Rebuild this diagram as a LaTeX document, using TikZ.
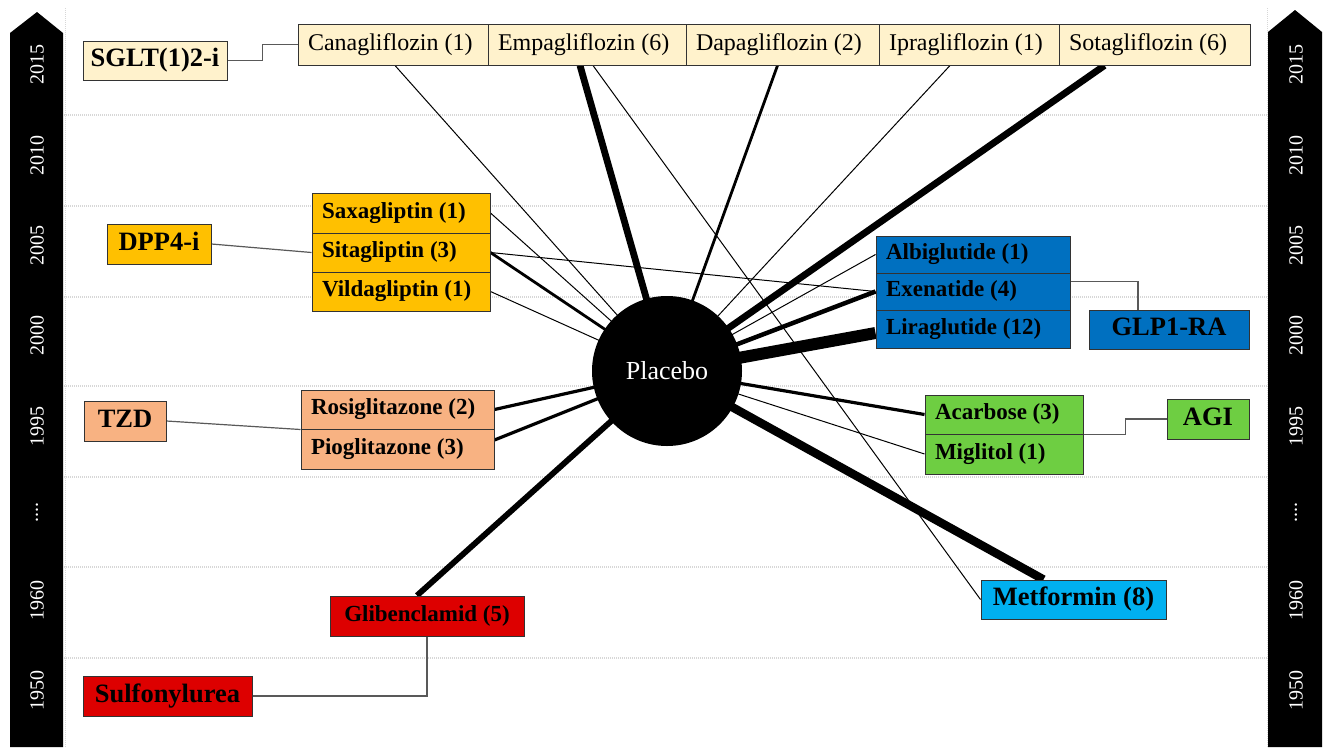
\documentclass[tikz,border=0pt]{standalone}
\usepackage{fontspec}
\setmainfont{Liberation Serif}
\usetikzlibrary{calc}
\definecolor{csglt}{RGB}{255,242,204}
\definecolor{cdpp}{RGB}{255,192,0}
\definecolor{ctzd}{RGB}{248,178,130}
\definecolor{csu}{RGB}{221,0,0}
\definecolor{cglp}{RGB}{0,112,192}
\definecolor{cagi}{RGB}{110,206,66}
\definecolor{cmet}{RGB}{0,176,240}
\definecolor{cgrid}{RGB}{215,215,215}
\pgfdeclarelayer{back}
\pgfdeclarelayer{mid}
\pgfsetlayers{back,mid,main}
\newcommand{\ydotslbl}{....}
\newcommand{\cellbx}[8]{%
  \pgfmathsetmacro\bxw{#5-#3}\pgfmathsetmacro\bxh{#6-#4}\pgfmathsetmacro\bxt{#5-#3-20}%
  \pgfmathsetmacro\bxcx{(#3+#5)/2}\pgfmathsetmacro\bxcy{(#4+#6)/2}%
  \node[#1, minimum width=\bxw pt, minimum height=\bxh pt] (#2) at (\bxcx,\bxcy) {\makebox[\bxt pt][#7]{\strut #8}};}
\tikzset{
  anybox/.style={draw=black!80, line width=1pt, inner sep=0pt},
  cellS/.style={anybox, fill=csglt, font=\fontsize{24}{28}\selectfont},
  cellB/.style={anybox, font=\fontsize{23}{27}\selectfont\bfseries},
  catbox/.style={anybox, font=\fontsize{26.5}{31}\selectfont\bfseries},
  link/.style={draw=black!65, line width=1.2pt},
  gridline/.style={draw=cgrid, line width=1.5pt, dash pattern=on 1pt off 1pt},
  yearlbl/.style={text=white, rotate=90, font=\fontsize{20}{22}\selectfont},
  e1/.style={line width=1pt},
  e2/.style={line width=2.8pt},
  e3/.style={line width=3.2pt},
  e4/.style={line width=4.5pt},
  e5/.style={line width=5.8pt},
  e6/.style={line width=6.8pt},
  e8/.style={line width=8.5pt},
  e12/.style={line width=12pt},
}
\begin{document}
\begin{tikzpicture}[x=1pt,y=-1pt]
\useasboundingbox (0,0) rectangle (1325,747);
% background grid and time bars
\begin{pgfonlayer}{back}
\fill[white] (0,0) rectangle (1325,747);
\foreach \yy in {115,206,297,386,477,567,658}
  \draw[gridline] (64,\yy) -- (1268,\yy);
\draw[gridline, line width=1pt] (65,8) -- (65,747);
\draw[gridline, line width=1pt] (1267,8) -- (1267,747);
\fill[black] (10,747) -- (10,33) -- (37,12) -- (63,33) -- (63,747) -- cycle;
\fill[black] (1268,747) -- (1268,32) -- (1295,10) -- (1322,32) -- (1322,747) -- cycle;
\end{pgfonlayer}
\foreach \yy/\lab [count=\i] in {64/2015,155/2010,245/2005,335/2000,426/1995,512/\ydotslbl,600/1960,690/1950}{
  \node[yearlbl] (yl\i) at (37,\yy) {\lab};
  \node[yearlbl] (yr\i) at (1296,\yy) {\lab};
}
% placebo
\node[circle, fill=black, minimum size=150pt, inner sep=0pt, text=white, font=\fontsize{26}{29}\selectfont] (pl) at (667,371) {Placebo};
% category boxes
\cellbx{catbox, fill=csglt}{sglt}{83}{41}{227}{80}{c}{SGLT(1)2-i}
\cellbx{catbox, fill=cdpp}{dpp}{107}{224}{211}{264}{c}{DPP4-i}
\cellbx{catbox, fill=ctzd}{tzd}{84}{401}{166}{441}{c}{TZD}
\cellbx{catbox, fill=csu}{su}{83}{676}{252}{716}{c}{Sulfonylurea}
\cellbx{catbox, fill=cglp}{glp}{1089}{310}{1249}{349}{c}{GLP1-RA}
\cellbx{catbox, fill=cagi}{agi}{1167}{399}{1249}{439}{c}{AGI}
% SGLT cells
\cellbx{cellS}{cana}{298}{24}{488}{65}{l}{Canagliflozin (1)}
\cellbx{cellS}{empa}{488}{24}{686}{65}{l}{Empagliflozin (6)}
\cellbx{cellS}{dapa}{686}{24}{879}{65}{l}{Dapagliflozin (2)}
\cellbx{cellS}{ipra}{879}{24}{1059}{65}{l}{Ipragliflozin (1)}
\cellbx{cellS}{sota}{1059}{24}{1250}{65}{l}{Sotagliflozin (6)}
% DPP4 cells
\cellbx{cellB, fill=cdpp}{saxa}{312}{193}{490}{233}{l}{Saxagliptin (1)}
\cellbx{cellB, fill=cdpp}{sita}{312}{233}{490}{272}{l}{Sitagliptin (3)}
\cellbx{cellB, fill=cdpp}{vild}{312}{272}{490}{311}{l}{Vildagliptin (1)}
% TZD cells
\cellbx{cellB, fill=ctzd}{rosi}{301}{390}{494}{429}{l}{Rosiglitazone (2)}
\cellbx{cellB, fill=ctzd}{pio}{301}{429}{494}{469}{l}{Pioglitazone (3)}
% SU
\cellbx{cellB, fill=csu}{glib}{330}{596}{524}{636}{c}{Glibenclamid (5)}
% GLP1 cells
\cellbx{cellB, fill=cglp}{albi}{876}{236}{1070}{273}{l}{Albiglutide (1)}
\cellbx{cellB, fill=cglp}{exen}{876}{273}{1070}{310}{l}{Exenatide (4)}
\cellbx{cellB, fill=cglp}{lira}{876}{310}{1070}{348}{l}{Liraglutide (12)}
% AGI cells
\cellbx{cellB, fill=cagi}{acar}{925}{395}{1083}{434}{l}{Acarbose (3)}
\cellbx{cellB, fill=cagi}{migl}{925}{434}{1083}{474}{l}{Miglitol (1)}
% Metformin
\cellbx{cellB, fill=cmet, font=\fontsize{26.5}{31}\selectfont\bfseries}{metf}{981}{580}{1166}{619}{c}{Metformin (8)}
% class links
\begin{pgfonlayer}{mid}
\draw[link] (sglt.east) -- ++(35,0) |- (cana.west);
\draw[link] (dpp.east) -- (sita.west);
\draw[link] (tzd.east) -- (rosi.south west);
\draw[link] (su.east) -| (glib.south);
\draw[link] ([yshift=10pt]exen.east) -| ([xshift=-31pt]glp.north);
\draw[link] (acar.south east) -- ++(42,0) |- (agi.west);
% comparison edges
\draw[e1] ([xshift=2pt]cana.south) -- (pl.center);
\draw[e6] ([xshift=-7pt]empa.south) -- (pl.center);
\draw[e1] ([xshift=6pt]empa.south) -- (metf.west);
\draw[e2] ([xshift=-5pt]dapa.south) -- (pl.center);
\draw[e1] ([xshift=-19pt]ipra.south) -- (pl.center);
\draw[e6] ([xshift=-50pt]sota.south) -- (pl.center);
\draw[e1] (saxa.east) -- (pl.center);
\draw[e2] (sita.east) -- (pl.center);
\draw[e1] (sita.east) -- (exen.west);
\draw[e1] (vild.east) -- (pl.center);
\draw[e1] (albi.west) -- (pl.center);
\draw[e4] (exen.west) -- (pl.center);
\draw[e12] ([yshift=-4pt]lira.west) -- (pl.center);
\draw[e3] (acar.west) -- (pl.center);
\draw[e1] (migl.west) -- (pl.center);
\draw[e8] ([xshift=-30pt]metf.north) -- (pl.center);
\draw[e3] (rosi.east) -- (pl.center);
\draw[e3] ([yshift=9pt]pio.east) -- (pl.center);
\draw[e5] ([xshift=-10pt]glib.north) -- (pl.center);
\end{pgfonlayer}
\end{tikzpicture}
\end{document}
